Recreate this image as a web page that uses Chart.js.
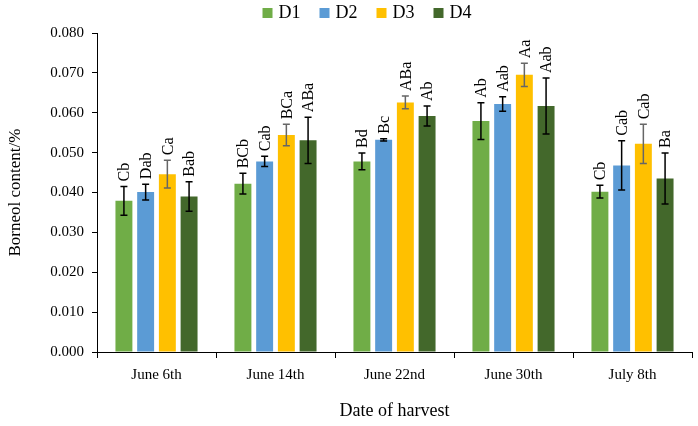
<!DOCTYPE html>
<html>
<head>
<meta charset="utf-8">
<script src="https://cdn.jsdelivr.net/npm/chart.js@4.4.0/dist/chart.umd.min.js"></script>
<style>
  html, body { margin: 0; padding: 0; background: #fff; }
  #wrap { width: 698px; height: 426px; position: relative; }
</style>
</head>
<body>
<div id="wrap"><canvas id="borneolChart"></canvas></div>
<script>
const categories = ['June 6th', 'June 14th', 'June 22nd', 'June 30th', 'July 8th'];
const seriesNames = ['D1', 'D2', 'D3', 'D4'];

const d1 = [0.0379, 0.0422, 0.0478, 0.0579, 0.0402];
const d2 = [0.0401, 0.0478, 0.0532, 0.0622, 0.0468];
const d3 = [0.0446, 0.0544, 0.0626, 0.0695, 0.0522];
const d4 = [0.0390, 0.0531, 0.0592, 0.0617, 0.0435];

const d1Err = [0.0036, 0.0026, 0.0021, 0.0046, 0.0016];
const d2Err = [0.0020, 0.0013, 0.0003, 0.0018, 0.0062];
const d3Err = [0.0035, 0.0027, 0.0016, 0.0029, 0.0049];
const d4Err = [0.0037, 0.0058, 0.0025, 0.0070, 0.0064];

const d1Letters = ['Cb', 'BCb', 'Bd', 'Ab', 'Cb'];
const d2Letters = ['Dab', 'Cab', 'Bc', 'Aab', 'Cab'];
const d3Letters = ['Ca', 'BCa', 'ABa', 'Aa', 'Cab'];
const d4Letters = ['Bab', 'ABa', 'Ab', 'Aab', 'Ba'];

const yMin = 0, yMax = 0.08, yStep = 0.01;

const colors = ['#70AD47', '#5B9BD5', '#FFC000', '#43682B'];
const errColors = ['#000000', '#000000', '#666666', '#000000'];
const FONT = '"Liberation Serif", "Times New Roman", serif';

// error bars + significance letters
const errorBarPlugin = {
  id: 'errorBars',
  afterDatasetsDraw(chart) {
    const ctx = chart.ctx;
    const y = chart.scales.y;
    chart.data.datasets.forEach((ds, i) => {
      const meta = chart.getDatasetMeta(i);
      if (meta.hidden) return;
      meta.data.forEach((bar, j) => {
        const v = ds.data[j], e = ds.errors[j];
        const yTop = y.getPixelForValue(v + e);
        const yBot = y.getPixelForValue(v - e);
        const x = bar.x;
        ctx.save();
        ctx.strokeStyle = ds.errColor;
        ctx.lineWidth = 1.5;
        ctx.beginPath();
        ctx.moveTo(x, yTop); ctx.lineTo(x, yBot);
        ctx.moveTo(x - 3.5, yTop); ctx.lineTo(x + 3.5, yTop);
        ctx.moveTo(x - 3.5, yBot); ctx.lineTo(x + 3.5, yBot);
        ctx.stroke();

        ctx.translate(x, yTop - 5);
        ctx.rotate(-Math.PI / 2);
        ctx.fillStyle = '#000';
        ctx.font = '16px ' + FONT;
        ctx.textAlign = 'left';
        ctx.textBaseline = 'middle';
        ctx.fillText(ds.letters[j], 0, 1);
        ctx.restore();
      });
    });
  }
};

// legend drawn at the top
const topLegendPlugin = {
  id: 'topLegend',
  afterDraw(chart) {
    const ctx = chart.ctx;
    ctx.save();
    ctx.font = '18px ' + FONT;
    ctx.textBaseline = 'middle';
    ctx.textAlign = 'left';
    const box = 10, gap = 6, spacing = 19;
    const items = chart.data.datasets.map(ds => ({
      label: ds.label, color: ds.backgroundColor, w: box + gap + ctx.measureText(ds.label).width
    }));
    const total = items.reduce((s, it) => s + it.w, 0) + spacing * (items.length - 1);
    let x = 367 - total / 2;
    const yc = 13;
    items.forEach(it => {
      ctx.fillStyle = it.color;
      ctx.fillRect(x, yc - box / 2, box, box);
      ctx.fillStyle = '#000';
      ctx.fillText(it.label, x + box + gap, yc);
      x += it.w + spacing;
    });
    ctx.restore();
  }
};

const seriesValues = [d1, d2, d3, d4];
const seriesErrs = [d1Err, d2Err, d3Err, d4Err];
const seriesLetters = [d1Letters, d2Letters, d3Letters, d4Letters];

const ctx = document.getElementById('borneolChart').getContext('2d');
const borneolChart = new Chart(ctx, {
  type: 'bar',
  data: {
    labels: categories,
    datasets: seriesNames.map((name, i) => ({
      label: name,
      data: seriesValues[i],
      errors: seriesErrs[i],
      letters: seriesLetters[i],
      errColor: errColors[i],
      backgroundColor: colors[i],
      borderWidth: 0,
      categoryPercentage: 0.73,
      barPercentage: 0.78
    }))
  },
  options: {
    responsive: true,
    maintainAspectRatio: false,
    animation: false,
    layout: { padding: { top: 33, right: 6, bottom: 0, left: 0 } },
    plugins: {
      legend: { display: false },
      tooltip: { enabled: false }
    },
    scales: {
      x: {
        afterFit: s => { s.height = 74; },
        grid: { offset: true, drawOnChartArea: false, drawTicks: true, tickLength: 6, color: '#000' },
        border: { display: true, color: '#000', width: 1 },
        ticks: { color: '#000', font: { family: FONT, size: 15 }, padding: 8, maxRotation: 0 },
        title: { display: true, text: 'Date of harvest', color: '#000', font: { family: FONT, size: 18 }, padding: { top: 8, bottom: 4 } }
      },
      y: {
        min: yMin,
        max: yMax,
        afterFit: s => { s.width = 97; },
        grid: { drawOnChartArea: false, drawTicks: true, tickLength: 5, color: '#000' },
        border: { display: true, color: '#000', width: 1 },
        ticks: {
          stepSize: yStep,
          color: '#000',
          font: { family: FONT, size: 15 },
          padding: 8,
          callback: v => v.toFixed(3)
        },
        title: { display: true, text: 'Borneol content/%', color: '#000', font: { family: FONT, size: 17 }, padding: { top: 5, bottom: 4 } }
      }
    }
  },
  plugins: [errorBarPlugin, topLegendPlugin]
});
</script>
</body>
</html>
